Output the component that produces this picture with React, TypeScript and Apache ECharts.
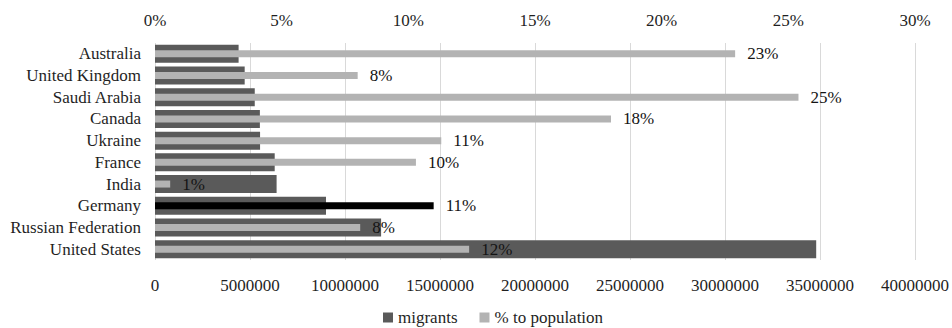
import React, { useEffect, useRef } from "react";
import * as echarts from "echarts";

const categories = [
  "Australia",
  "United Kingdom",
  "Saudi Arabia",
  "Canada",
  "Ukraine",
  "France",
  "India",
  "Germany",
  "Russian Federation",
  "United States",
];
const migrants = [4400000, 4720000, 5250000, 5520000, 5530000, 6300000, 6400000, 9000000, 11900000, 34800000];
const pctPopulation = [0.229, 0.08, 0.254, 0.18, 0.113, 0.103, 0.006, 0.11, 0.081, 0.124];
const highlighted = "Germany";
const migrantTicks = { min: 0, max: 40000000, interval: 5000000 };
const pctTicks = { min: 0, max: 0.3, interval: 0.05 };

const FONT = "Times New Roman, Liberation Serif, serif";
const TEXT = "#1f1f1f";
const FS = 17;

export default function App() {
  const ref = useRef<HTMLDivElement>(null);
  useEffect(() => {
    if (!ref.current) return;
    const chart = echarts.init(ref.current, undefined, { renderer: "svg" });
    chart.setOption({
      animation: false,
      textStyle: { fontFamily: FONT, color: TEXT },
      grid: { left: 155, right: 35, top: 43, bottom: 68, containLabel: false },
      legend: {
        top: 304,
        left: 378,
        itemWidth: 10,
        itemHeight: 10,
        itemGap: 22,
        icon: "rect",
        textStyle: { fontFamily: FONT, fontSize: FS, color: TEXT },
        data: ["migrants", "% to population"],
      },
      xAxis: [
        {
          type: "value",
          position: "bottom",
          ...migrantTicks,
          axisLine: { show: false },
          axisTick: { show: false },
          splitLine: { show: true, lineStyle: { color: "#d9d9d9", width: 1 } },
          axisLabel: {
            fontFamily: FONT,
            fontSize: FS,
            color: TEXT,
            margin: 17,
            formatter: (v: number) => String(v),
          },
        },
        {
          type: "value",
          position: "top",
          ...pctTicks,
          axisLine: { show: false },
          axisTick: { show: false },
          splitLine: { show: false },
          axisLabel: {
            fontFamily: FONT,
            fontSize: FS,
            color: TEXT,
            margin: 14,
            formatter: (v: number) => Math.round(v * 100) + "%",
          },
        },
      ],
      yAxis: [
        {
          type: "category",
          data: categories,
          inverse: true,
          axisLine: { show: false },
          axisTick: { show: false },
          axisLabel: { fontFamily: FONT, fontSize: FS, color: TEXT, margin: 14, interval: 0 },
        },
        {
          type: "category",
          data: categories,
          inverse: true,
          show: false,
        },
      ],
      series: [
        {
          name: "migrants",
          type: "bar",
          xAxisIndex: 0,
          yAxisIndex: 0,
          barWidth: 18,
          itemStyle: { color: "#5a5a5a" },
          data: migrants,
        },
        {
          name: "% to population",
          type: "bar",
          xAxisIndex: 1,
          yAxisIndex: 1,
          barWidth: 7,
          itemStyle: { color: "#b3b3b3" },
          label: {
            show: true,
            position: "right",
            distance: 12,
            fontFamily: FONT,
            fontSize: FS,
            color: "#141414",
            formatter: (p: any) => Math.round(p.value * 100) + "%",
          },
          data: pctPopulation.map((v, i) =>
            categories[i] === highlighted ? { value: v, itemStyle: { color: "#000000" } } : v
          ),
        },
      ],
    });
    return () => chart.dispose();
  }, []);
  return (
    <div
      ref={ref}
      style={{ position: "fixed", left: 0, top: 0, width: 952, height: 328, background: "#fff" }}
    />
  );
}
